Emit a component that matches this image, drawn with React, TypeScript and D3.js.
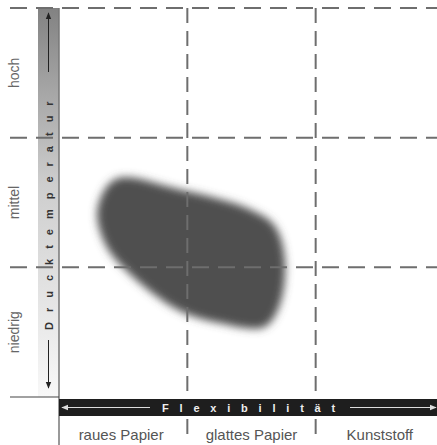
import React from "react";
import * as d3 from "d3";

const xCategories = ["raues Papier", "glattes Papier", "Kunststoff"];
const yCategories = ["niedrig", "mittel", "hoch"];
const xAxisTitle = "Flexibilität";
const yAxisTitle = "Drucktemperatur";
// blob outline in data units (x: column index, y: row index)
const blobX = [0.30, 0.44, 0.94, 1.48, 1.68, 1.76, 1.72, 1.60, 1.25, 0.93, 0.53, 0.36];
const blobY = [1.45, 1.68, 1.60, 1.45, 1.32, 1.06, 0.71, 0.54, 0.57, 0.67, 0.97, 1.18];

const W = 437;
const H = 445;

export default function App() {
  const x = d3.scaleLinear().domain([0, 3]).range([59, 444]);
  const y = d3.scaleLinear().domain([0, 3]).range([397, 8]);
  const pts: [number, number][] = blobX.map((v, i) => [x(v), y(blobY[i])]);
  const blobPath = d3.line().curve(d3.curveCatmullRomClosed.alpha(0.5))(pts) || "";
  const font = "'Liberation Sans', Arial, sans-serif";
  const gridColor = "#6e6e6e";
  const barX0 = 38, barX1 = 59;
  const yTicks = d3.range(0, 4);
  const xTicks = d3.range(1, 3);
  const barCx = (barX0 + barX1) / 2;
  const hBarY0 = 399, hBarY1 = 416;
  const hMid = (hBarY0 + hBarY1) / 2;
  return (
    <svg width={W} height={H} style={{ position: "absolute", left: 0, top: 0, background: "#fff" }}>
      <defs>
        <linearGradient id="vgrad" x1="0" y1="0" x2="0" y2="1">
          <stop offset="0" stopColor="#828282" />
          <stop offset="0.45" stopColor="#cdcdcd" />
          <stop offset="1" stopColor="#f8f8f8" />
        </linearGradient>
        <filter id="blur" x="-20%" y="-20%" width="140%" height="140%">
          <feGaussianBlur stdDeviation="4.5" />
        </filter>
        <marker id="ah" viewBox="0 0 10 10" refX="9" refY="5" markerWidth="7" markerHeight="7" orient="auto">
          <path d="M0,1 L10,5 L0,9 Z" fill="#222" />
        </marker>
        <marker id="ahw" viewBox="0 0 10 10" refX="9" refY="5" markerWidth="6" markerHeight="6" orient="auto">
          <path d="M0,1 L10,5 L0,9 Z" fill="#ddd" />
        </marker>
      </defs>
      {/* vertical gradient bar */}
      <rect x={barX0} y={y(3)} width={barX1 - barX0} height={y(0) - y(3)} fill="url(#vgrad)" />
      {/* blob */}
      <path d={blobPath} fill="#505050" filter="url(#blur)" />
      {/* horizontal dashed grid */}
      {yTicks.slice(1).map((t) => (
        <line key={"h" + t} x1={10} x2={W} y1={y(t)} y2={y(t)} stroke={gridColor} strokeWidth={2} strokeDasharray="17 9" />
      ))}
      {/* vertical dashed grid */}
      {xTicks.map((t) => (
        <g key={"v" + t}>
          <line x1={x(t)} x2={x(t)} y1={y(3)} y2={y(0)} stroke={gridColor} strokeWidth={2} strokeDasharray="15 8" />
          <line x1={x(t)} x2={x(t)} y1={hBarY1 + 3} y2={hBarY1 + 18} stroke={gridColor} strokeWidth={2} />
        </g>
      ))}
      {/* axis lines */}
      <line x1={barX1} x2={barX1} y1={y(3)} y2={H} stroke="#777" strokeWidth={1.5} />
      <line x1={10} x2={barX1} y1={y(0)} y2={y(0)} stroke="#444" strokeWidth={1.2} />
      {/* y category labels */}
      {yCategories.map((c, i) => (
        <text key={c} transform={`translate(19,${y(i + 0.5)}) rotate(-90)`} textAnchor="middle" fontFamily={font} fontSize={14} fill="#666">
          {c}
        </text>
      ))}
      {/* vertical title with arrows */}
      <line x1={barCx} x2={barCx} y1={340} y2={388} stroke="#222" strokeWidth={1} markerEnd="url(#ah)" />
      <line x1={barCx} x2={barCx} y1={72} y2={13} stroke="#222" strokeWidth={1} markerEnd="url(#ah)" />
      <text transform={`translate(${barCx + 4},330) rotate(-90)`} textAnchor="start" fontFamily={font} fontWeight="bold" fontSize={11} fill="#333" letterSpacing={10}>
        {yAxisTitle}
      </text>
      {/* horizontal black bar */}
      <rect x={barX1} y={hBarY0} width={W - barX1} height={hBarY1 - hBarY0} fill="#1e1e1e" />
      <line x1={150} x2={62} y1={hMid} y2={hMid} stroke="#ddd" strokeWidth={1.2} markerEnd="url(#ahw)" />
      <line x1={350} x2={436} y1={hMid} y2={hMid} stroke="#ddd" strokeWidth={1.2} markerEnd="url(#ahw)" />
      <text x={162} y={hMid + 4} textAnchor="start" fontFamily={font} fontWeight="bold" fontSize={11} fill="#eee" letterSpacing={10.8}>
        {xAxisTitle}
      </text>
      {/* x category labels */}
      {xCategories.map((c, i) => (
        <text key={c} x={x(i + 0.5) + (i === 0 ? -2 : 0)} y={440} textAnchor="middle" fontFamily={font} fontSize={15} fill="#555">
          {c}
        </text>
      ))}
    </svg>
  );
}
